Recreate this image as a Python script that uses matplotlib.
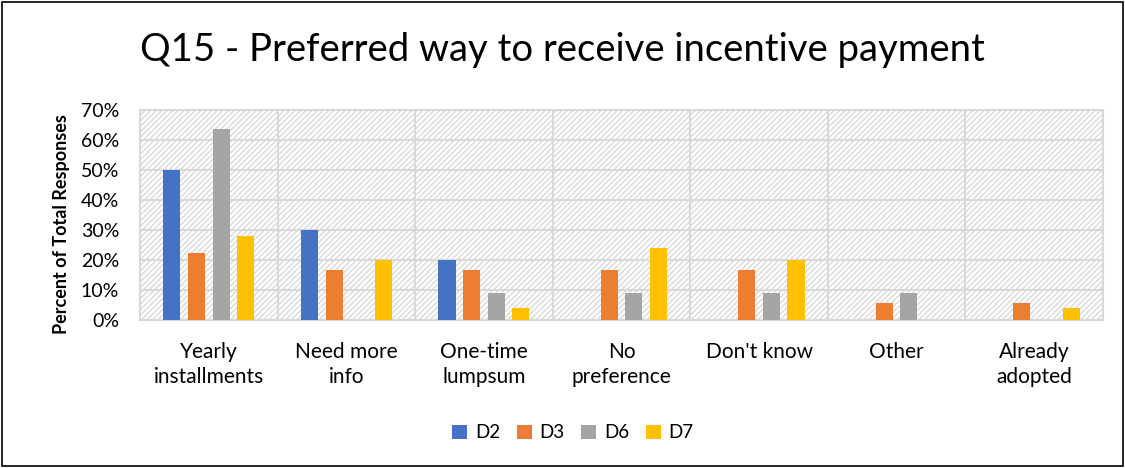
import matplotlib
matplotlib.use("Agg")
import matplotlib.pyplot as plt
import numpy as np
from matplotlib.patches import Rectangle

categories = ["Yearly\ninstallments", "Need more\ninfo", "One-time\nlumpsum", "No\npreference",
              "Don't know", "Other", "Already\nadopted"]
series_names = ["D2", "D3", "D6", "D7"]
D2 = [50.0, 30.0, 20.0, 0, 0, 0, 0]
D3 = [22.2, 16.7, 16.7, 16.7, 16.7, 5.6, 5.6]
D6 = [63.6, 0, 9.1, 9.1, 9.1, 9.1, 0]
D7 = [28.0, 20.0, 4.0, 24.0, 20.0, 0, 4.0]
colors = ["#4472C4", "#ED7D31", "#A5A5A5", "#FFC000"]
yticks = [0, 10, 20, 30, 40, 50, 60, 70]

plt.rcParams['font.family'] = ['Lato', 'DejaVu Sans']
plt.rcParams['hatch.color'] = '#d9d9d9'
plt.rcParams['hatch.linewidth'] = 1.0

fig = plt.figure(figsize=(11.25, 4.68), dpi=100)
ax = fig.add_axes([140/1125, 1-320/468, 963/1125, 210/468])

ax.patch.set_facecolor('white')
ax.patch.set_hatch('//////')
ax.patch.set_edgecolor('#d9d9d9')

x = np.arange(len(categories))
step = 0.179
width = 0.124
for i, (name, vals) in enumerate(zip(series_names, [D2, D3, D6, D7])):
    ax.bar(x + (i - 1.5) * step, vals, width, color=colors[i], label=name, zorder=3)

ax.set_xlim(-0.5, len(categories) - 0.5)
ax.set_ylim(0, 70)
ax.set_yticks(yticks)
ax.set_yticklabels([f"{v}%" for v in yticks], fontsize=14)
ax.set_xticks(x)
ax.set_xticklabels(categories, fontsize=15, linespacing=1.3)
ax.tick_params(axis='both', length=0)
ax.tick_params(axis='x', pad=16)
ax.tick_params(axis='y', pad=15)

for v in yticks:
    ax.axhline(v, color='#d9d9d9', lw=1.5, zorder=1)
for b in np.arange(-0.5, len(categories), 1.0):
    ax.axvline(b, color='#d9d9d9', lw=1.5, zorder=1)
for s in ax.spines.values():
    s.set_color('#d9d9d9')
    s.set_linewidth(1.5)

ax.set_ylabel("Percent of Total Responses", fontsize=13, fontweight='bold')
ax.yaxis.set_label_coords(-0.073, 0.455)

fig.suptitle("Q15 - Preferred way to receive incentive payment", fontsize=27.5, y=1-50/468, va='center')

leg = fig.legend(loc='center', bbox_to_anchor=(573/1125, 1-433/468), ncol=4, frameon=False,
                 fontsize=13.5, handlelength=0.8, handleheight=0.8, handletextpad=0.4, columnspacing=0.9)

fig.patches.append(Rectangle((0.002, 0.004), 0.996, 0.992, transform=fig.transFigure,
                             fill=False, edgecolor='black', lw=1.2))

fig.savefig("out.png", dpi=100)
